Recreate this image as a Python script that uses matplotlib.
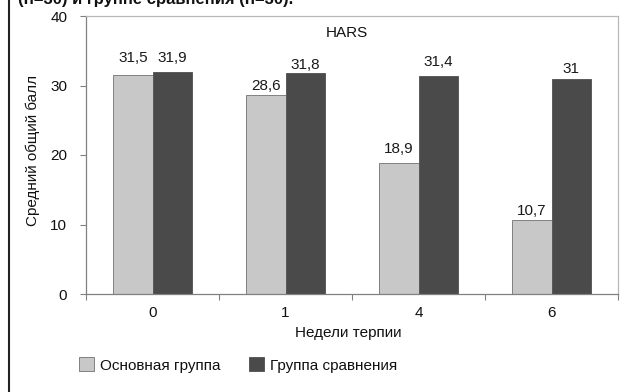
import matplotlib
matplotlib.use("Agg")
import matplotlib.pyplot as plt
from matplotlib.lines import Line2D
import numpy as np

plt.rcParams['font.family'] = ['Liberation Sans', 'DejaVu Sans']

# Data
weeks = ["0", "1", "4", "6"]
main_group = [31.5, 28.6, 18.9, 10.7]
comparison_group = [31.9, 31.8, 31.4, 31.0]
main_labels = ["31,5", "28,6", "18,9", "10,7"]
comparison_labels = ["31,9", "31,8", "31,4", "31"]
series_names = ["Основная группа", "Группа сравнения"]
y_ticks = [0, 10, 20, 30, 40]

W, H = 633, 392
FS = 11
fig = plt.figure(figsize=(W / 100, H / 100), dpi=100)
fig.patch.set_facecolor("white")

ax = fig.add_axes([86 / W, 1 - 294 / H, 532 / W, 278 / H])

x = np.arange(len(weeks))
bw = 0.295
light = "#c8c8c8"
dark = "#4a4a4a"
b1 = ax.bar(x - bw / 2, main_group, bw, color=light, edgecolor="#808080", linewidth=0.7)
b2 = ax.bar(x + bw / 2, comparison_group, bw, color=dark, edgecolor="#5a5a5a", linewidth=0.7)

# value labels above each bar (offsets in points)
main_off = [12, 7, 10, 6.5]
comp_off = [10, 5.5, 10, 7]
for xi, v, lab, o in zip(x - bw / 2, main_group, main_labels, main_off):
    ax.annotate(lab, (xi, v), xytext=(0, o), textcoords="offset points",
                ha="center", va="center", fontsize=FS, color="#1a1a1a")
for xi, v, lab, o in zip(x + bw / 2, comparison_group, comparison_labels, comp_off):
    ax.annotate(lab, (xi, v), xytext=(0, o), textcoords="offset points",
                ha="center", va="center", fontsize=FS, color="#1a1a1a")

ax.set_xlim(-0.5, len(weeks) - 0.5)
ax.set_ylim(0, 40)
ax.set_yticks(y_ticks)
ax.set_yticklabels([str(t) for t in y_ticks], fontsize=FS, color="#111111")
ax.set_xticks(x)
ax.set_xticklabels(weeks, fontsize=FS, color="#111111")
ax.set_xticks(np.arange(-0.5, len(weeks), 1.0), minor=True)

ax.tick_params(axis="y", which="major", direction="out", length=4.5, width=0.8,
               color="#808080", pad=9)
ax.tick_params(axis="x", which="major", length=0, pad=8.5)
ax.tick_params(axis="x", which="minor", direction="out", length=4.5, width=0.8,
               color="#808080")

for side in ["left", "bottom"]:
    ax.spines[side].set_color("#808080")
    ax.spines[side].set_linewidth(0.9)
for side in ["top", "right"]:
    ax.spines[side].set_color("#b8b8b8")
    ax.spines[side].set_linewidth(0.9)

ax.text(0.49, 0.939, "HARS", transform=ax.transAxes, ha="center", va="center",
        fontsize=FS, color="#111111")

ax.set_ylabel("Средний общий балл", fontsize=FS, color="#111111")
ax.yaxis.label.set_va("center")
ax.yaxis.set_label_coords((33 - 86) / 532, (294 - 150) / 278)
ax.set_xlabel("Недели терпии", fontsize=FS, color="#111111")
ax.xaxis.label.set_va("center")
ax.xaxis.set_label_coords((348 - 86) / 532, -(333 - 294) / 278)

leg = fig.legend([b1, b2], series_names, loc="center left",
                 bbox_to_anchor=(79 / W, 1 - 365 / H), bbox_transform=fig.transFigure,
                 ncol=2, frameon=False, fontsize=FS, handlelength=1.0,
                 handleheight=1.0, handletextpad=0.35, columnspacing=1.9,
                 borderpad=0, borderaxespad=0)
for t in leg.get_texts():
    t.set_color("#111111")

# caption line cut off at the top edge and left frame line
fig.text(18 / W, 1 - 4 / H, "(n=30) и группе сравнения (n=30).", fontsize=12,
         fontweight="bold", ha="left", va="baseline", color="#111111")
fig.add_artist(Line2D([8.5 / W, 8.5 / W], [0, 1], transform=fig.transFigure,
                      color="#222222", linewidth=1.5))

fig.savefig("out.png", dpi=100)
